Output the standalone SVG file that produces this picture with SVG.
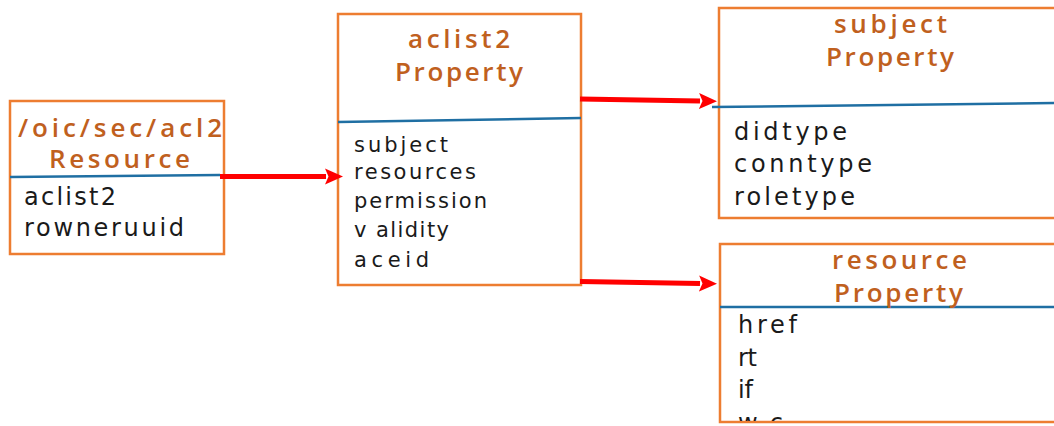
<svg xmlns="http://www.w3.org/2000/svg" width="1054" height="426" viewBox="0 0 1054 426">
  <style>
    .box { fill: #ffffff; stroke: #ED7D31; stroke-width: 2.5; }
    .divider { stroke: #1F6FA3; stroke-width: 2.5; fill: none; }
    .title { font-family: "Open Sans", "DejaVu Sans", sans-serif; font-weight: 600; font-size: 26px; fill: #C0601E; }
    .item { font-family: "DejaVu Sans", sans-serif; font-size: 24px; fill: #1a1a1a; }
    .item-sm { font-family: "DejaVu Sans", sans-serif; font-size: 21px; fill: #1a1a1a; }
    .link { stroke: #FF0000; stroke-width: 5; fill: none; }
  </style>
  <defs>
    <marker id="arrow" markerUnits="userSpaceOnUse" markerWidth="18" markerHeight="17" refX="1" refY="8.5" orient="auto">
      <path d="M0,0.5 L18,8.5 L0,16.5 L3.5,8.5 z" fill="#FF0000"/>
    </marker>
    <clipPath id="clip-resource">
      <rect x="720" y="244" width="340" height="177"/>
    </clipPath>
  </defs>
  <rect width="1054" height="426" fill="#ffffff"/>

  <!-- /oic/sec/acl2 resource -->
  <g id="node-acl2-resource">
    <rect class="box" x="10" y="101" width="214" height="153"/>
    <line class="divider" x1="10" y1="177" x2="220" y2="175"/>
    <text class="title" x="18" y="137" textLength="204" lengthAdjust="spacing">/oic/sec/acl2</text>
    <text class="title" x="49" y="168" textLength="141" lengthAdjust="spacing">Resource</text>
    <text class="item" x="24" y="205" textLength="92" lengthAdjust="spacing">aclist2</text>
    <text class="item" x="24" y="236" textLength="160" lengthAdjust="spacing">rowneruuid</text>
  </g>

  <!-- aclist2 property -->
  <g id="node-aclist2-property">
    <rect class="box" x="338" y="14" width="243" height="271"/>
    <line class="divider" x1="338" y1="122" x2="581" y2="118"/>
    <text class="title" x="408" y="48" textLength="102" lengthAdjust="spacing">aclist2</text>
    <text class="title" x="395" y="81" textLength="128" lengthAdjust="spacing">Property</text>
    <text class="item-sm" x="354" y="152" textLength="94" lengthAdjust="spacing">subject</text>
    <text class="item-sm" x="354" y="179" textLength="122" lengthAdjust="spacing">resources</text>
    <text class="item-sm" x="354" y="208" textLength="133" lengthAdjust="spacing">permission</text>
    <text class="item-sm" x="354" y="237" textLength="95" lengthAdjust="spacing">v alidity</text>
    <text class="item-sm" x="354" y="267" textLength="75" lengthAdjust="spacing">aceid</text>
  </g>

  <!-- subject property -->
  <g id="node-subject-property">
    <rect class="box" x="719" y="8" width="345" height="210"/>
    <line class="divider" x1="712" y1="107" x2="1054" y2="103"/>
    <text class="title" x="834" y="33" textLength="113" lengthAdjust="spacing">subject</text>
    <text class="title" x="826" y="66" textLength="128" lengthAdjust="spacing">Property</text>
    <text class="item" x="734" y="140" textLength="113" lengthAdjust="spacing">didtype</text>
    <text class="item" x="734" y="172" textLength="138" lengthAdjust="spacing">conntype</text>
    <text class="item" x="734" y="205" textLength="121" lengthAdjust="spacing">roletype</text>
  </g>

  <!-- resource property; the last row runs past the frame and is clipped by it -->
  <g id="node-resource-property">
    <rect class="box" x="720" y="244" width="345" height="178"/>
    <line class="divider" x1="720" y1="307" x2="1054" y2="307"/>
    <text class="title" x="832" y="269" textLength="135" lengthAdjust="spacing">resource</text>
    <text class="title" x="834" y="302" textLength="129" lengthAdjust="spacing">Property</text>
    <g clip-path="url(#clip-resource)">
      <text class="item" x="738" y="333" textLength="59" lengthAdjust="spacing">href</text>
      <text class="item" x="738" y="366" textLength="19" lengthAdjust="spacing">rt</text>
      <text class="item" x="738" y="398" textLength="15" lengthAdjust="spacing">if</text>
      <text class="item" x="738" y="431" textLength="45" lengthAdjust="spacing">wc</text>
    </g>
  </g>

  <!-- connectors -->
  <g id="connectors">
    <path class="link" d="M220,176.5 L326,176.5" marker-end="url(#arrow)"/>
    <path class="link" d="M580,99 L700,101" marker-end="url(#arrow)"/>
    <path class="link" d="M580,281.5 L700,283.5" marker-end="url(#arrow)"/>
  </g>
</svg>
